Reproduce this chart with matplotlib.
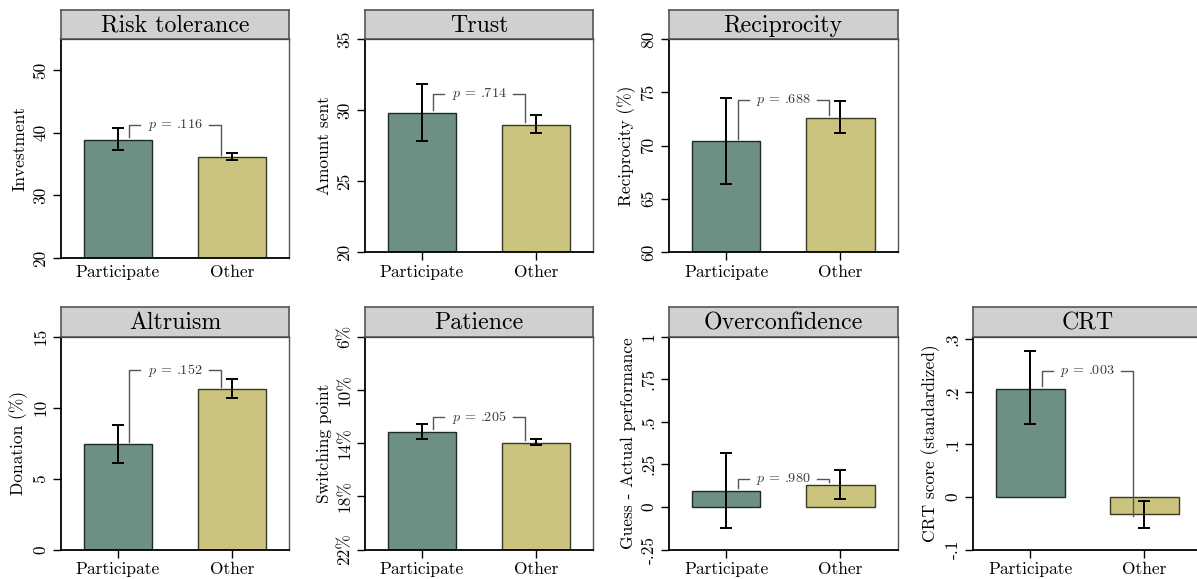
import numpy as np
import matplotlib
matplotlib.use("Agg")
import matplotlib.pyplot as plt

plt.rcParams['font.family'] = ['cmr10', 'DejaVu Serif']
plt.rcParams['mathtext.fontset'] = 'cm'
plt.rcParams['axes.formatter.use_mathtext'] = True

W, H = 1197, 579

groups = ["Participate", "Other"]

titles = ["Risk tolerance", "Trust", "Reciprocity",
          "Altruism", "Patience", "Overconfidence", "CRT"]
ylabels = ["Investment", "Amount sent", "Reciprocity (%)",
           "Donation (%)", "Switching point",
           "Guess - Actual performance", "CRT score (standardized)"]

# mean, lower CI, upper CI for (Participate, Other)
means = [[38.9, 36.1], [29.8, 28.95], [70.4, 72.6],
         [7.42, 11.3], [13.15, 13.98], [0.095, 0.130], [0.206, -0.032]]
ci_low = [[37.2, 35.6], [27.8, 28.35], [66.4, 71.15],
          [6.13, 10.66], [12.57, 13.70], [-0.123, 0.044], [0.138, -0.060]]
ci_high = [[40.8, 36.8], [31.85, 29.63], [74.5, 74.15],
           [8.78, 11.99], [13.70, 14.18], [0.318, 0.218], [0.277, -0.007]]

p_labels = [".116", ".714", ".688", ".152", ".205", ".980", ".003"]
bracket_y = [41.2, 31.1, 74.3, 12.65, 12.07, 0.163, 0.239]

ylims = [(20, 55), (20, 35), (60, 80), (0, 15), (22, 6), (-0.25, 1), (-0.1, 0.305)]
yticks = [[20, 30, 40, 50], [20, 25, 30, 35], [60, 65, 70, 75, 80],
          [0, 5, 10, 15], [6, 10, 14, 18, 22],
          [-0.25, 0, 0.25, 0.5, 0.75, 1], [-0.1, 0, 0.1, 0.2, 0.3]]
ytick_labels = [["20", "30", "40", "50"], ["20", "25", "30", "35"],
                ["60", "65", "70", "75", "80"], ["0", "5", "10", "15"],
                ["6%", "10%", "14%", "18%", "22%"],
                ["-.25", "0", ".25", ".5", ".75", "1"],
                ["-.1", "0", ".1", ".2", ".3"]]

# panel boxes in pixels: left, right, top, bottom
boxes = [(61, 289, 39, 258), (365, 593, 39, 252), (669, 897.5, 39, 252),
         (61, 289, 336.7, 549.5), (365, 593, 336.7, 549.5),
         (669, 897.5, 336.7, 549.5), (973.3, 1201.3, 336.7, 549.5)]
STRIP = 29.5

colors = ["#6e8f84", "#cbc47f"]
edges = ["#1f2a26", "#3a3820"]

fig = plt.figure(figsize=(W / 100, H / 100), dpi=100)

for i in range(7):
    l, r, t, b = boxes[i]
    ax = fig.add_axes([l / W, 1 - b / H, (r - l) / W, (b - t) / H])
    st = fig.add_axes([l / W, 1 - t / H, (r - l) / W, STRIP / H])
    st.set_facecolor("#d0d0d0")
    st.set_xticks([])
    st.set_yticks([])
    for s in st.spines.values():
        s.set_color("#555555")
        s.set_linewidth(1.2)
    st.text(0.5, 0.45, titles[i], ha="center", va="center", fontsize=17.2,
            transform=st.transAxes)

    y0, y1 = ylims[i]
    x = np.arange(2)
    base = y0 if i == 4 else 0
    m = np.array(means[i])
    ax.bar(x, m - base, bottom=base, width=0.6, color=colors,
           edgecolor=edges, linewidth=1.0, zorder=2)
    lo = np.array(ci_low[i])
    hi = np.array(ci_high[i])
    ax.errorbar(x, m, yerr=[m - lo, hi - m], fmt="none", ecolor="black",
                elinewidth=1.4, capsize=4.5, capthick=1.4, zorder=3)

    # bracket with p-value
    by = bracket_y[i]
    gap = 0.012 * (y1 - y0)
    ends = []
    for v in m:
        ends.append(v - gap if v < 0 else v + gap)
    lc = "#555555"
    ax.plot([0.1, 0.1, 0.197], [ends[0], by, by], color=lc, lw=1.0, zorder=4)
    ax.plot([0.795, 0.9, 0.9], [by, by, ends[1]], color=lc, lw=1.0, zorder=4)
    ax.text(0.5, by, r"$p$ = " + p_labels[i], ha="center", va="center",
            fontsize=10.2, color="#3a3a3a", zorder=5)

    ax.set_xlim(-0.5, 1.5)
    ax.set_ylim(y0, y1)
    ax.set_xticks(x)
    ax.set_xticklabels(groups, fontsize=12.5)
    ax.set_yticks(yticks[i])
    ax.set_yticklabels(ytick_labels[i], fontsize=12.5, rotation=90, va="center")
    ax.set_ylabel(ylabels[i], fontsize=12.5, labelpad=4)
    ax.tick_params(axis="y", length=6, width=1.0, pad=3)
    if i == 0:
        ax.tick_params(axis="x", length=0, pad=5)
    else:
        ax.tick_params(axis="x", length=6, width=1.0, pad=3)
    for side in ["left", "bottom"]:
        ax.spines[side].set_color("black")
        ax.spines[side].set_linewidth(1.3)
    for side in ["top", "right"]:
        ax.spines[side].set_color("#555555")
        ax.spines[side].set_linewidth(1.0)
    ax.spines["top"].set_color("black")
    ax.spines["top"].set_linewidth(1.6)

fig.savefig("out.png", dpi=100)
